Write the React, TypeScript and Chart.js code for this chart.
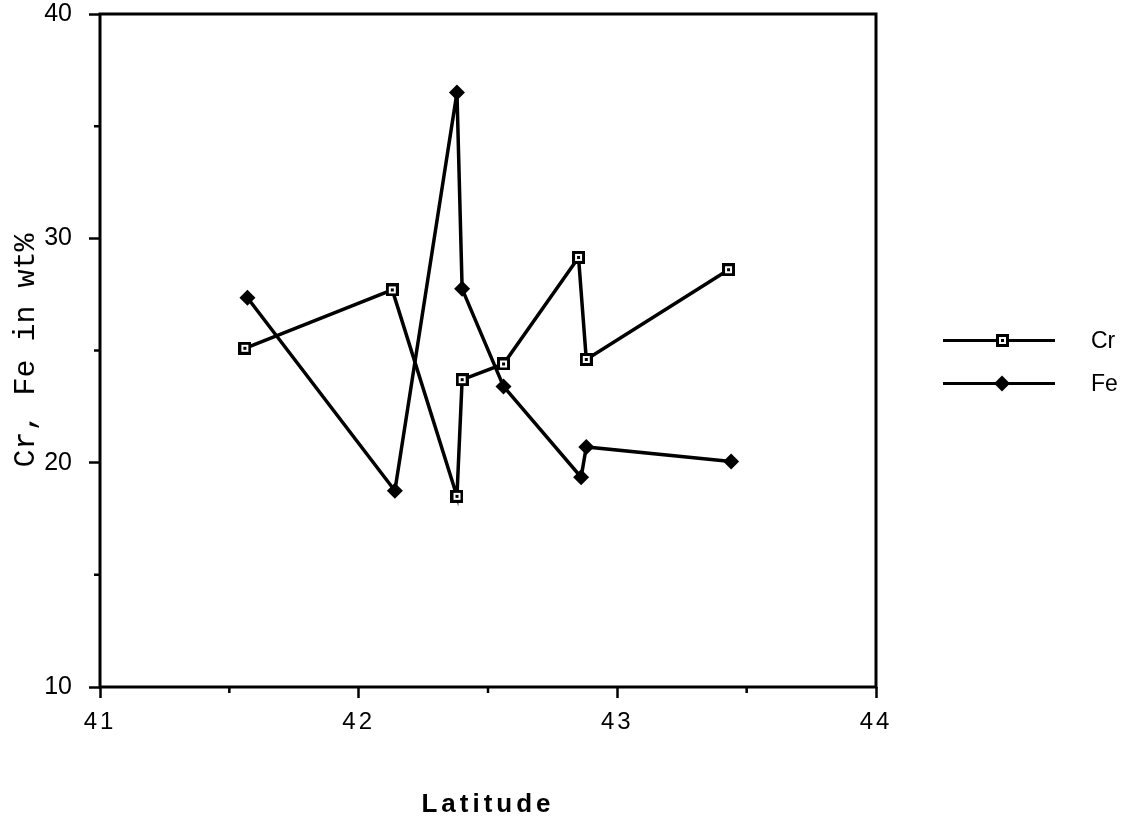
import React, { useEffect, useRef } from 'react';
import { Chart, registerables } from 'chart.js';

Chart.register(...registerables);

// ---- data ----
const crLatitude = [41.56, 42.13, 42.38, 42.4, 42.56, 42.85, 42.88, 43.43];
const crValues = [25.1, 27.7, 18.5, 23.7, 24.4, 29.15, 24.6, 28.6];
const feLatitude = [41.57, 42.14, 42.38, 42.4, 42.56, 42.86, 42.88, 43.44];
const feValues = [27.35, 18.75, 36.5, 27.75, 23.4, 19.35, 20.7, 20.05];
const seriesLabels = ['Cr', 'Fe'];
const xTickValues = [41, 42, 43, 44];
const yTickValues = [10, 20, 30, 40];
const xMinorTickValues = [41.5, 42.5, 43.5];
const yMinorTickValues = [15, 25, 35];
const xTitle = 'Latitude';
const yTitle = 'Cr, Fe in wt%';

const INK = '#000';

function makeSquareMarker(): HTMLCanvasElement {
  const c = document.createElement('canvas');
  c.width = 13;
  c.height = 13;
  const g = c.getContext('2d')!;
  g.fillStyle = INK;
  g.fillRect(0, 0, 13, 13);
  g.fillStyle = '#fff';
  g.fillRect(3, 3, 7, 7);
  g.fillStyle = INK;
  g.fillRect(5, 5, 3, 3);
  return c;
}

function drawDiamond(ctx: CanvasRenderingContext2D, x: number, y: number, r: number) {
  ctx.beginPath();
  ctx.moveTo(x, y - r);
  ctx.lineTo(x + r, y);
  ctx.lineTo(x, y + r);
  ctx.lineTo(x - r, y);
  ctx.closePath();
  ctx.fillStyle = INK;
  ctx.fill();
}

export default function App() {
  const canvasRef = useRef<HTMLCanvasElement | null>(null);

  useEffect(() => {
    const canvas = canvasRef.current;
    if (!canvas) return;
    const squareMarker = makeSquareMarker();

    const framePlugin = {
      id: 'frameAndMinor',
      beforeDraw(chart: any) {
        const xs = chart.scales.x;
        if (xs && !xs._spacedPatch) {
          const origTitle = xs.drawTitle.bind(xs);
          const origLabels = xs.drawLabels.bind(xs);
          xs.drawTitle = function () {
            const c = this.ctx;
            c.save();
            c.letterSpacing = '4px';
            origTitle();
            c.restore();
          };
          xs.drawLabels = function (area: any) {
            const c = this.ctx;
            c.save();
            c.letterSpacing = '3px';
            origLabels(area);
            c.restore();
          };
          xs._spacedPatch = true;
        }
      },
      beforeDatasetsDraw(chart: any) {
        const { ctx, chartArea, scales } = chart;
        ctx.save();
        ctx.strokeStyle = INK;
        ctx.lineWidth = 3;
        ctx.strokeRect(chartArea.left, chartArea.top, chartArea.right - chartArea.left, chartArea.bottom - chartArea.top);
        ctx.lineWidth = 2.5;
        ctx.beginPath();
        xMinorTickValues.forEach((v) => {
          const px = scales.x.getPixelForValue(v);
          ctx.moveTo(px, chartArea.bottom);
          ctx.lineTo(px, chartArea.bottom + 6);
        });
        yMinorTickValues.forEach((v) => {
          const py = scales.y.getPixelForValue(v);
          ctx.moveTo(chartArea.left, py);
          ctx.lineTo(chartArea.left - 6, py);
        });
        ctx.stroke();
        ctx.restore();
      },
      afterDraw(chart: any) {
        const { ctx, chartArea } = chart;
        const midY = (chartArea.top + chartArea.bottom) / 2;
        const x0 = chartArea.right + 67;
        const x1 = x0 + 112;
        const mx = x0 + 59;
        const tx = x0 + 148;
        const rows = [midY - 10, midY + 33];
        ctx.save();
        ctx.strokeStyle = INK;
        ctx.lineWidth = 3;
        ctx.font = '23px "Liberation Sans", Arial, sans-serif';
        ctx.textBaseline = 'middle';
        ctx.textAlign = 'left';
        ctx.fillStyle = INK;
        rows.forEach((y, i) => {
          ctx.beginPath();
          ctx.moveTo(x0, y);
          ctx.lineTo(x1, y);
          ctx.stroke();
          if (i === 0) {
            ctx.drawImage(squareMarker, Math.round(mx - 6.5), Math.round(y - 6.5));
          } else {
            drawDiamond(ctx, mx, y, 8);
          }
          ctx.fillStyle = INK;
          ctx.fillText(chart.data.datasets[i].label, tx, y + 1);
        });
        ctx.restore();
      },
    };

    const chart = new Chart(canvas, {
      type: 'line',
      data: {
        datasets: [
          {
            label: seriesLabels[0],
            data: crLatitude.map((x, i) => ({ x, y: crValues[i] })),
            borderColor: INK,
            borderWidth: 3.5,
            pointStyle: squareMarker as any,
            pointRadius: 6,
            backgroundColor: '#fff',
            tension: 0,
            fill: false,
          },
          {
            label: seriesLabels[1],
            data: feLatitude.map((x, i) => ({ x, y: feValues[i] })),
            borderColor: INK,
            borderWidth: 3.5,
            pointStyle: 'rectRot',
            pointRadius: 8,
            pointBorderWidth: 0,
            pointBackgroundColor: INK,
            backgroundColor: INK,
            tension: 0,
            fill: false,
          },
        ],
      },
      options: {
        responsive: false,
        animation: false,
        events: [],
        layout: { padding: { left: 0, top: 14, right: 254, bottom: 0 } },
        plugins: {
          legend: { display: false },
          tooltip: { enabled: false },
          title: { display: false },
        },
        scales: {
          x: {
            type: 'linear',
            min: 41,
            max: 44,
            afterBuildTicks: (s: any) => {
              s.ticks = xTickValues.map((value) => ({ value }));
            },
            afterFit: (s: any) => {
              s.height = 134;
              s.paddingLeft = 0;
              s.paddingRight = 0;
            },
            grid: {
              drawOnChartArea: false,
              drawTicks: true,
              tickLength: 11,
              tickWidth: 2.5,
              tickColor: INK,
              color: INK,
            },
            border: { display: false },
            ticks: {
              color: INK,
              padding: 10,
              maxRotation: 0,
              font: { family: '"Liberation Sans", Arial, sans-serif', size: 24 },
            },
            title: {
              display: true,
              text: xTitle,
              color: INK,
              padding: { top: 0, bottom: 1 },
              font: { family: '"Liberation Sans", Arial, sans-serif', size: 26, weight: 'bold' },
            },
          },
          y: {
            type: 'linear',
            min: 10,
            max: 40,
            afterBuildTicks: (s: any) => {
              s.ticks = yTickValues.map((value) => ({ value }));
            },
            afterFit: (s: any) => {
              s.width = 100;
              s.paddingTop = 0;
              s.paddingBottom = 0;
            },
            grid: {
              drawOnChartArea: false,
              drawTicks: true,
              tickLength: 11,
              tickWidth: 2.5,
              tickColor: INK,
              color: INK,
            },
            border: { display: false },
            ticks: {
              color: INK,
              padding: 17,
              font: { family: '"Liberation Sans", Arial, sans-serif', size: 25 },
            },
            title: {
              display: true,
              text: yTitle,
              color: INK,
              padding: { top: 8, bottom: 0 },
              font: { family: '"Liberation Mono", "Courier New", monospace', size: 30 },
            },
          },
        },
      },
      plugins: [framePlugin],
    });

    return () => {
      chart.destroy();
    };
  }, []);

  return (
    <div style={{ position: 'fixed', left: 0, top: 0, width: 1130, height: 821, background: '#fff' }}>
      <canvas ref={canvasRef} width={1130} height={821} style={{ display: 'block' }} />
    </div>
  );
}
